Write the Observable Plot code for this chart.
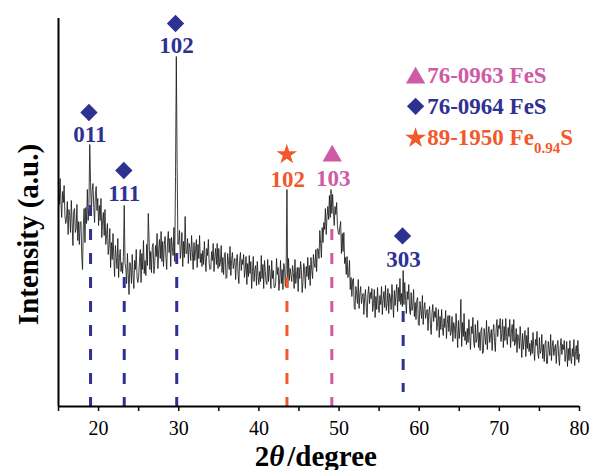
<!DOCTYPE html>
<html><head><meta charset="utf-8">
<script src="https://cdn.jsdelivr.net/npm/d3@7"></script>
<script src="https://cdn.jsdelivr.net/npm/@observablehq/plot@0.6"></script>
<style>body{margin:0;background:#fff}</style>
</head><body><div id="chart"></div>
<script>
const angleStart = 15, angleStep = 0.1;
const intensity = [
 221,202,228,205,189,215,204,221,191,183, // 15
 187,205,172,197,191,174,206,184,161,195, // 16
 198,174,178,202,166,185,162,184,185,151, // 17
 137,182,198,164,199,183,217,186,203,262, // 18
 224,195,216,223,199,184,212,220,196,208, // 19
 181,201,186,208,169,186,194,171,197,162, // 20
 172,183,152,160,178,139,164,147,173,149, // 21
 130,161,149,138,168,129,149,157,135,144, // 22
 133,150,201,143,138,123,153,133,112,144, // 23
 140,123,152,131,118,146,137,157,129,124, // 24
 130,145,157,124,153,137,166,133,146,131, // 25
 162,141,193,168,137,155,134,159,163,133, // 26
 141,161,150,173,138,157,167,148,175,145, // 27
 165,140,162,170,149,137,164,175,154,168, // 28
 140,169,159,151,179,145,230,350,240,162, // 29
 164,176,148,158,174,140,165,149,190,153, // 30
 153,168,143,163,158,146,171,155,137,164, // 31
 146,157,167,139,162,148,171,144,153,140, // 32
 156,142,165,148,135,158,151,167,143,137, // 33
 138,155,146,163,135,150,158,142,163,138, // 34
 158,140,144,161,134,149,132,152,154,128, // 35
 129,153,145,137,160,131,147,154,138,144, // 36
 148,127,145,152,133,123,146,154,136,147, // 37
 142,152,129,137,150,122,143,130,151,133, // 38
 145,118,135,150,125,137,141,121,145,130, // 39
 122,135,125,151,128,142,118,146,135,124, // 40
 122,147,125,141,133,118,146,128,136,119, // 41
 119,124,148,132,139,116,128,146,123,137, // 42
 117,143,140,120,137,217,119,148,126,138, // 43
 132,125,141,134,118,147,123,131,139,115, // 44
 139,128,145,137,114,125,143,136,118,140, // 45
 130,149,127,141,121,149,136,128,152,143, // 46
 139,157,135,158,157,148,176,163,149,179, // 47
 164,184,177,198,172,190,200,187,211,189, // 48
 217,193,212,194,181,200,192,204,181,174, // 49
 172,179,185,153,173,155,174,143,149,132, // 50
 150,129,131,146,117,129,110,127,128,99,  // 51
 97,120,112,103,127,98,113,120,103,110,   // 52
 113,92,110,117,99,89,112,120,103,114,    // 53
 108,118,95,103,117,89,110,97,119,101,    // 54
 94,111,102,120,92,107,115,99,121,96,     // 55
 103,118,93,113,109,97,122,106,89,116,    // 56
 101,112,122,95,119,105,128,102,113,100,  // 57
 136,102,124,106,93,115,107,122,97,92,    // 58
 114,96,100,117,90,104,87,106,109,82,     // 59
 81,105,96,88,111,82,98,104,88,94,        // 60
 97,76,94,100,82,72,94,102,85,95,         // 61
 89,99,76,84,97,69,90,77,97,79,           // 62
 71,88,79,96,68,83,91,75,91,71,           // 63
 75,90,65,84,80,68,93,77,59,86,           // 64
 68,79,107,60,84,70,93,66,75,62,          // 65
 78,64,87,70,57,80,73,89,64,59,           // 66
 82,64,68,86,59,74,56,76,79,53,           // 67
 54,78,70,62,86,57,73,80,64,71,           // 68
 77,56,75,82,65,55,78,87,70,81,           // 69
 78,88,65,73,87,59,80,66,88,70,           // 70
 62,79,70,87,59,74,82,65,87,61,           // 71
 64,78,54,72,69,58,80,65,49,73,           // 72
 57,67,76,50,71,58,79,55,63,51,           // 73
 66,53,74,58,46,67,61,75,53,48,           // 74
 69,53,56,72,48,62,45,63,66,43,           // 75
 43,65,58,51,72,46,60,66,51,58,           // 76
 62,43,60,66,50,41,60,68,52,62,           // 77
 57,66,45,52,65,40,58,46,66,49,           // 78
 43,58,50,67,41,55,61,47,66,44,           // 79
 52                                       // 80
];
const pattern = intensity.map((v, i) => ({angle: +(angleStart + i * angleStep).toFixed(1), intensity: v}));

// reference cards (legend)
const phaseNames = ["76-0963 FeS", "76-0964 FeS", "89-1950 Fe0.94S"];
const phaseColors = ["#cf5aa6", "#2e3192", "#f1592a"];
const phaseSymbols = ["triangle", "diamond2", "star"];
const phaseSymbolR = [7.2, 7.8, 6.5];

// indexed peaks
const peakAngle   = [19.0, 23.2, 29.75, 43.5, 49.1, 58.0];
const peakPhase   = [1, 1, 1, 2, 0, 1];
const peakLabel   = ["011", "111", "102", "102", "103", "303"];
const dashBottom  = [0, 0, 0, 0, 0, 14];
const dashTop     = [201, 129, 153, 129, 177, 98];
const markerAngle = [18.8, 23.15, 29.6, 43.48, 49.15, 57.92];
const markerLevel = [294, 236, 383, 252, 250.5, 170.6];
const labelAngle  = [18.9, 23.2, 29.72, 43.6, 49.27, 58.04];
const labelLevel  = [264.3, 206, 353.3, 219.3, 221, 140];

const peaks = peakAngle.map((a, i) => ({
  angle: a, phase: peakPhase[i], label: peakLabel[i],
  y1: dashBottom[i], y2: dashTop[i],
  mx: markerAngle[i], my: markerLevel[i], lx: labelAngle[i], ly: labelLevel[i]
}));

const legendSymbolAngle = 59.55, legendTextAngle = 61.0;
const legendSymbolLevel = [328.6, 300.2, 268.4];
const legendTextLevel = [323.3, 292.7, 261.7];
const legend = phaseNames.map((n, i) => ({name: n, phase: i, sy: legendSymbolLevel[i], ty: legendTextLevel[i]}));

const color = i => phaseColors[i];

const marks = [
  Plot.line(pattern, {x: "angle", y: "intensity", stroke: "#1a1a1a", strokeWidth: 0.85}),
  Plot.ruleX(peaks, {x: "angle", y1: "y1", y2: "y2", stroke: d => color(d.phase), strokeWidth: 3,
    strokeDasharray: "11,13", strokeDashoffset: 2}),
];
for (let p = 0; p < 3; p++) {
  marks.push(Plot.dot(peaks.filter(d => d.phase === p), {x: "mx", y: "my", symbol: phaseSymbols[p], r: phaseSymbolR[p], fill: phaseColors[p], stroke: "none"}));
  marks.push(Plot.dot(legend.filter(d => d.phase === p), {x: legendSymbolAngle, y: "sy", symbol: phaseSymbols[p], r: phaseSymbolR[p], fill: phaseColors[p], stroke: "none"}));
}
marks.push(
  Plot.text(peaks, {x: "lx", y: "ly", text: "label", fill: d => color(d.phase), fontSize: 23, fontWeight: "bold", textAnchor: "middle", lineAnchor: "bottom"}),
  Plot.text(legend, {x: legendTextAngle, y: "ty", text: "name", fill: d => color(d.phase), fontSize: 23, fontWeight: "bold", textAnchor: "start", lineAnchor: "bottom"}),
  Plot.ruleY([0], {stroke: "#000", strokeWidth: 2}),
  Plot.ruleX([15], {stroke: "#000", strokeWidth: 2}),
  Plot.axisX({ticks: d3.range(15, 81, 5), tickFormat: d => (d % 10 === 0 && d > 15 ? String(d) : ""), tickSize: 5, tickPadding: 9, fontSize: 20, strokeWidth: 1.5, fill: "#000", stroke: "#000"}),
  Plot.text(["2θ/degree"], {x: 47.1, frameAnchor: "bottom", dy: 59, fontSize: 29, fontWeight: "bold", textAnchor: "middle", lineAnchor: "bottom", fill: "#000"}),
  Plot.text(["Intensity (a.u.)"], {x: 15, y: 172, dx: -20.7, rotate: -90, fontSize: 29, fontWeight: "bold", textAnchor: "middle", lineAnchor: "bottom", fill: "#000"})
);

const plot = Plot.plot({
  width: 593, height: 470,
  marginLeft: 58, marginRight: 14, marginTop: 18, marginBottom: 64,
  style: {fontFamily: "'Liberation Serif', 'Times New Roman', serif", background: "#fff", color: "#000", overflow: "visible"},
  x: {domain: [15, 80], axis: null},
  y: {domain: [0, 388], axis: null},
  marks
});

// rich text: italic theta and subscript 0.94
d3.select(plot).selectAll("text").each(function () {
  const t = this.textContent;
  const sel = d3.select(this);
  if (t === "2θ/degree") {
    sel.text(null);
    sel.append("tspan").text("2");
    sel.append("tspan").attr("font-style", "italic").text("θ");
    sel.append("tspan").attr("dx", 3).text("/degree");
  } else if (t === "89-1950 Fe0.94S") {
    sel.text(null);
    sel.append("tspan").text("89-1950 Fe");
    sel.append("tspan").attr("font-size", 15).attr("dy", 8).text("0.94");
    sel.append("tspan").attr("dy", -8).text("S");
  }
});

document.getElementById("chart").appendChild(plot);
</script>
</body></html>
